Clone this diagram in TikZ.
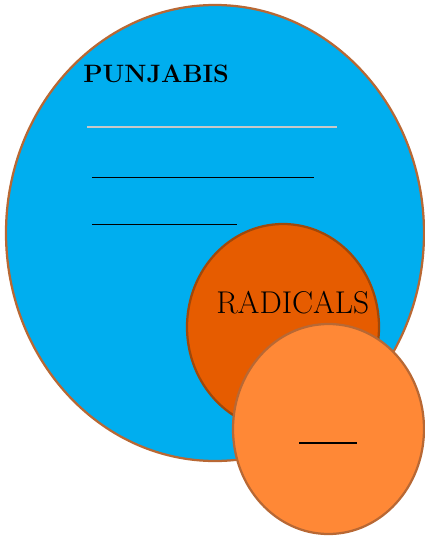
\documentclass[tikz,border=0pt]{standalone}
\usepackage{xcolor}
\usepackage{tikz}
\usetikzlibrary{shapes.geometric}

\definecolor{skyfill}{RGB}{0,174,239}
\definecolor{radfill}{RGB}{230,92,0}
\definecolor{subfill}{RGB}{255,136,54}
\definecolor{rimbrown}{RGB}{184,104,52}
\definecolor{rimdark}{RGB}{160,72,10}
\definecolor{blankgray}{RGB}{200,200,200}

\begin{document}
\begin{tikzpicture}[
  set/.style={ellipse,draw=rimbrown,line width=1.6pt,inner sep=0pt},
  blank/.style={line width=0.7pt},
  lab/.style={anchor=base west,inner sep=0pt}]
 \useasboundingbox (0,0) rectangle (10.625,-13.45);
 % outer set
 \node[set,fill=skyfill,minimum width=10.45cm,minimum height=11.4cm] (pun) at (5.375,-5.825) {};
 \node[lab,font=\fontsize{17.9}{21}\selectfont\bfseries] (punlab) at (2.075,-2.05) {PUNJABIS};
 \draw[blank,blankgray,line width=1pt] (2.175,-3.175) coordinate (g1) -- (8.425,-3.175) coordinate (g2);
 \draw[blank] (2.3,-4.425) coordinate (b1) -- (7.85,-4.425) coordinate (b2);
 \draw[blank] (2.3,-5.6) coordinate (c1) -- (5.925,-5.6) coordinate (c2);
 % inner set
 \node[set,draw=rimdark,fill=radfill,minimum width=4.8cm,minimum height=5.15cm] (rad) at (7.075,-8.175) {};
 \node[lab,font=\fontsize{22.4}{26}\selectfont] (radlab) at (5.4,-7.825) {RADICALS};
 % overlapping set
 \node[set,fill=subfill,minimum width=4.775cm,minimum height=5.25cm] (sub) at (8.2125,-10.725) {};
 \draw[blank,line width=1.2pt] (7.475,-11.075) coordinate (d1) -- (8.925,-11.075) coordinate (d2);
\end{tikzpicture}
\end{document}
